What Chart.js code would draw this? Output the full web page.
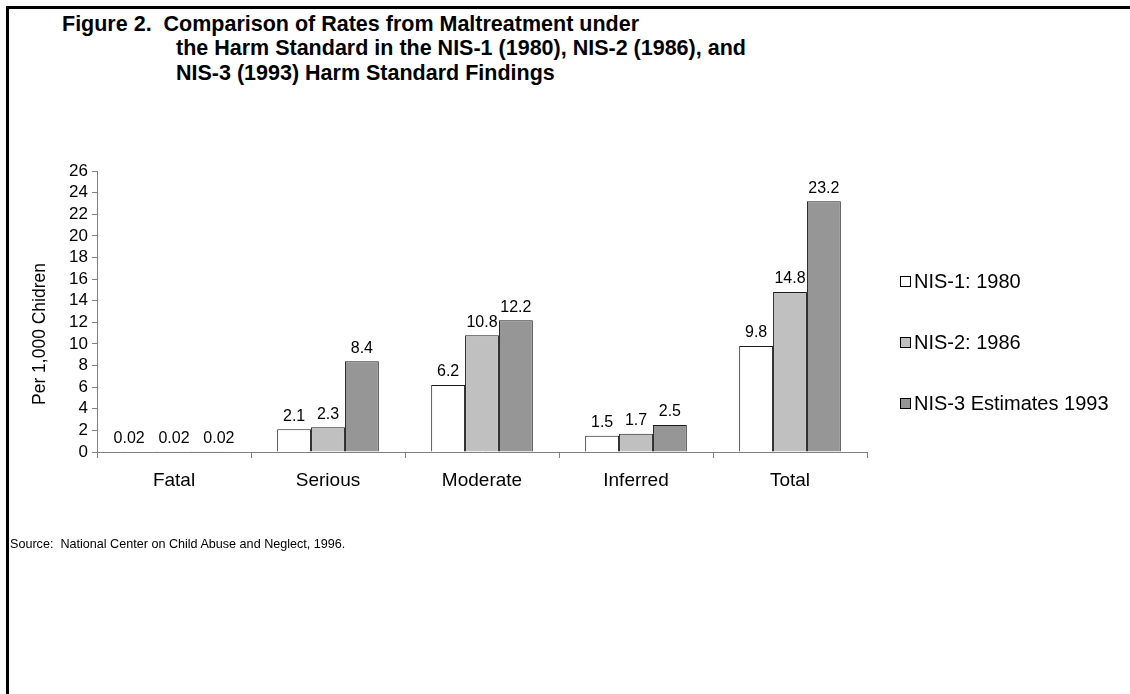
<!DOCTYPE html>
<html>
<head>
<meta charset="utf-8">
<title>Figure 2</title>
<script src="https://cdn.jsdelivr.net/npm/chart.js@4.4.1/dist/chart.umd.min.js"></script>
<style>
  html, body { margin: 0; padding: 0; background: #fff; }
  #wrap { position: relative; width: 1130px; height: 694px; overflow: hidden; font-family: "Liberation Sans", Arial, sans-serif; color: #000; }
  #frame { position: absolute; left: 6px; top: 6px; right: -10px; bottom: -10px; border-top: 3px solid #000; border-left: 3px solid #000; }
  .title { position: absolute; font-weight: bold; font-size: 21.5px; line-height: 24px; white-space: pre; }
  #source { position: absolute; left: 10px; top: 536px; font-size: 12.6px; line-height: 16px; white-space: pre; }
  #chart { position: absolute; left: 0; top: 0; }
</style>
</head>
<body>
<div id="wrap">
  <div id="frame"></div>
  <div class="title" style="left:62px;top:12px">Figure 2.  Comparison of Rates from Maltreatment under</div>
  <div class="title" style="left:176px;top:36px">the Harm Standard in the NIS-1 (1980), NIS-2 (1986), and</div>
  <div class="title" style="left:176px;top:61px">NIS-3 (1993) Harm Standard Findings</div>
  <canvas id="chart" width="1130" height="694"></canvas>
  <div id="source">Source:  National Center on Child Abuse and Neglect, 1996.</div>
</div>
<script>
// data (rate per 1,000 children)
const categories = ['Fatal', 'Serious', 'Moderate', 'Inferred', 'Total'];
const nis1 = [0.02, 2.1, 6.2, 1.5, 9.8];
const nis2 = [0.02, 2.3, 10.8, 1.7, 14.8];
const nis3 = [0.02, 8.4, 12.2, 2.5, 23.2];
const seriesNames = ['NIS-1: 1980', 'NIS-2: 1986', 'NIS-3 Estimates 1993'];
const yTicks = [0, 2, 4, 6, 8, 10, 12, 14, 16, 18, 20, 22, 24, 26];
const yTitle = 'Per 1,000 Chidren';

const FONT = '"Liberation Sans", Arial, sans-serif';
const fills = ['#ffffff', '#c0c0c0', '#969696'];
const axisGray = '#808080';

// value labels over each bar (tiny bars get their labels pushed apart, like Excel does)
const barLabels = {
  id: 'barLabels',
  afterDatasetsDraw(chart) {
    const ctx = chart.ctx;
    const n = chart.data.datasets.length;
    ctx.save();
    ctx.font = '16px ' + FONT;
    ctx.fillStyle = '#000';
    ctx.textAlign = 'center';
    ctx.textBaseline = 'bottom';
    chart.data.datasets.forEach((ds, i) => {
      chart.getDatasetMeta(i).data.forEach((bar, j) => {
        const small = ds.data[j] < 0.5;
        const dx = small ? (i - (n - 1) / 2) * 11 : 0;
        ctx.fillText(String(ds.data[j]), bar.x + dx, bar.y - 5);
      });
    });
    ctx.restore();
  }
};

// legend on the right + rotated axis title
const sideLegend = {
  id: 'sideLegend',
  afterDraw(chart) {
    const ctx = chart.ctx;
    ctx.save();
    ctx.font = '20px ' + FONT;
    ctx.textBaseline = 'middle';
    ctx.textAlign = 'left';
    chart.data.datasets.forEach((ds, i) => {
      const y = 281 + i * 61;
      ctx.fillStyle = ds.backgroundColor;
      ctx.fillRect(900, y - 5, 10, 10);
      ctx.strokeStyle = '#000';
      ctx.lineWidth = 1;
      ctx.strokeRect(900.5, y - 4.5, 10, 10);
      ctx.fillStyle = '#000';
      ctx.fillText(ds.label, 914, y + 1);
    });
    ctx.translate(40, 334);
    ctx.rotate(-Math.PI / 2);
    ctx.textAlign = 'center';
    ctx.font = '17.5px ' + FONT;
    ctx.fillText(yTitle, 0, 0);
    ctx.restore();
  }
};

new Chart(document.getElementById('chart').getContext('2d'), {
  type: 'bar',
  data: {
    labels: categories,
    datasets: [nis1, nis2, nis3].map((d, i) => ({
      label: seriesNames[i],
      data: d,
      backgroundColor: fills[i],
      borderColor: '#1a1a1a',
      borderWidth: 1,
      categoryPercentage: 0.66,
      barPercentage: 1.0
    }))
  },
  options: {
    responsive: false,
    animation: false,
    events: [],
    layout: { padding: { top: 171, left: 57, right: 263, bottom: 202 } },
    plugins: { legend: { display: false }, tooltip: { enabled: false } },
    scales: {
      x: {
        afterFit: s => { s.height = 40; },
        grid: { drawOnChartArea: false, tickLength: 6, color: axisGray },
        border: { color: axisGray, width: 1 },
        ticks: { color: '#000', padding: 11, font: { family: FONT, size: 19 } }
      },
      y: {
        min: yTicks[0],
        max: yTicks[yTicks.length - 1],
        afterFit: s => { s.width = 40; },
        afterBuildTicks: s => { s.ticks = yTicks.map(v => ({ value: v })); },
        ticks: { autoSkip: false, color: '#000', padding: 4, font: { family: FONT, size: 17, lineHeight: 1 } },
        grid: { drawOnChartArea: false, tickLength: 5, color: axisGray },
        border: { color: axisGray, width: 1 }
      }
    }
  },
  plugins: [barLabels, sideLegend]
});
</script>
</body>
</html>
